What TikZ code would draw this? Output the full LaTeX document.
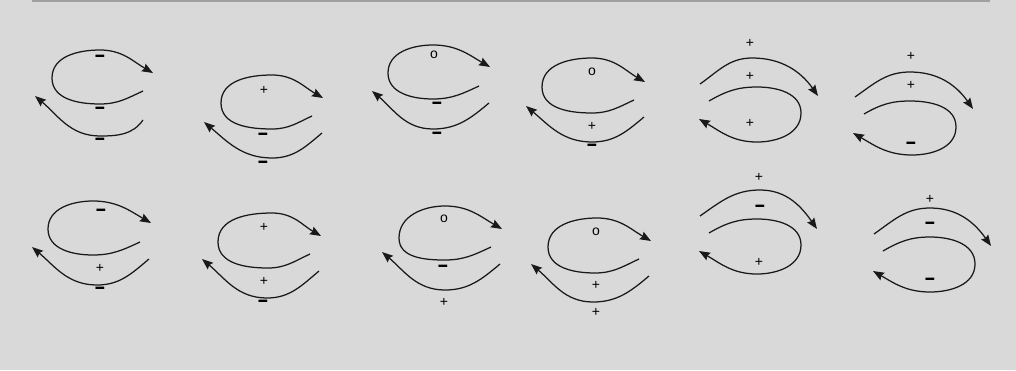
\documentclass[tikz,border=0pt]{standalone}
\usepackage{fontspec}
\setmainfont{Liberation Sans}
\usepackage{graphicx}
\usetikzlibrary{arrows.meta}
\definecolor{bgcol}{HTML}{D9D9D9}
\definecolor{rulegray}{HTML}{A0A0A0}
\newcommand\curlminus{\scalebox{1.45}[1.8]{\bfseries −}}
\begin{document}
\begin{tikzpicture}[x=1pt,y=1pt,
  curl/.style={line width=1.25pt, draw=black!90, -{Stealth[length=11pt,width=8.5pt,inset=1.5pt]}},
  lab/.style={inner sep=0pt, font=\fontsize{14}{14}\selectfont},
  mn/.style={inner sep=0pt, font=\fontsize{12}{12}\selectfont, yshift=1pt}]
\fill[bgcol] (0,0) rectangle (1016,-370);
\useasboundingbox (0,0) rectangle (1016,-370);
\draw[rulegray, line width=1.5pt] (32,-0.75) -- (990,-0.75);

% ---------- Row 1 ----------
% G1
\draw[curl] (143,-91) to[out=205,in=0] (100,-104) to[out=180,in=-90] (52,-78) to[out=90,in=180] (100,-50) to[out=0,in=150] (153,-73);
\draw[curl] (143,-120) to[out=235,in=0] (100,-136) to[out=180,in=-40] (35,-96);
\node[mn] (g1a) at (100,-60) {\curlminus};
\node[mn] (g1b) at (100,-112) {\curlminus};
\node[mn] (g1c) at (100,-143) {\curlminus};

% G2
\draw[curl] (312,-116) to[out=205,in=0] (272,-129) to[out=180,in=-90] (221,-103) to[out=90,in=180] (272,-75) to[out=0,in=150] (323,-98);
\draw[curl] (322,-133) to[out=220,in=0] (272,-158) to[out=180,in=-40] (204,-122);
\node[lab] (g2a) at (264,-90) {+};
\node[mn] (g2b) at (263,-138) {\curlminus};
\node[mn] (g2c) at (263,-166) {\curlminus};

% G3
\draw[curl] (479,-86) to[out=205,in=0] (433,-99) to[out=180,in=-90] (388,-73) to[out=90,in=180] (433,-45) to[out=0,in=150] (490,-67);
\draw[curl] (489,-103) to[out=220,in=0] (433,-129) to[out=180,in=-40] (372,-91);
\node[lab] (g3a) at (434,-55) {o};
\node[mn] (g3b) at (437,-107) {\curlminus};
\node[mn] (g3c) at (437,-137) {\curlminus};

% G4
\draw[curl] (634,-100) to[out=205,in=0] (592,-113) to[out=180,in=-90] (542,-87) to[out=90,in=180] (592,-58) to[out=0,in=150] (645,-82);
\draw[curl] (644,-117) to[out=220,in=0] (592,-142) to[out=180,in=-40] (526,-106);
\node[lab] (g4a) at (592,-72) {o};
\node[lab] (g4b) at (592,-126) {+};
\node[mn] (g4c) at (592,-149) {\curlminus};

% G5
\draw[curl] (700,-84) to[out=35,in=180] (752,-58) to[out=0,in=125] (818,-96);
\draw[curl] (709,-101) to[out=30,in=180] (757,-87) to[out=0,in=90] (801,-113) to[out=-90,in=0] (757,-142) to[out=180,in=-30] (699,-119);
\node[lab] (g5a) at (750,-43) {+};
\node[lab] (g5b) at (750,-76) {+};
\node[lab] (g5c) at (750,-123) {+};

% G6
\draw[curl] (855,-97) to[out=35,in=180] (910,-72) to[out=0,in=125] (973,-109);
\draw[curl] (864,-114) to[out=30,in=180] (910,-101) to[out=0,in=90] (956,-127) to[out=-90,in=0] (912,-155) to[out=180,in=-30] (853,-133);
\node[lab] (g6a) at (911,-56) {+};
\node[lab] (g6b) at (911,-85) {+};
\node[mn] (g6c) at (911,-147) {\curlminus};

% ---------- Row 2 ----------
% G7
\draw[curl] (140,-242) to[out=205,in=0] (93,-255) to[out=180,in=-90] (48,-229) to[out=90,in=180] (93,-201) to[out=0,in=150] (151,-223);
\draw[curl] (149,-259) to[out=220,in=0] (97,-285) to[out=180,in=-40] (32,-247);
\node[mn] (g7a) at (101,-214) {\curlminus};
\node[lab] (g7b) at (100,-268) {+};
\node[mn] (g7c) at (100,-292) {\curlminus};

% G8
\draw[curl] (310,-254) to[out=205,in=0] (268,-268) to[out=180,in=-90] (218,-242) to[out=90,in=180] (272,-213) to[out=0,in=150] (321,-236);
\draw[curl] (319,-271) to[out=220,in=0] (267,-298) to[out=180,in=-40] (202,-259);
\node[lab] (g8a) at (264,-227) {+};
\node[lab] (g8b) at (264,-281) {+};
\node[mn] (g8c) at (263,-305) {\curlminus};

% G9
\draw[curl] (491,-247) to[out=205,in=0] (445,-260) to[out=180,in=-90] (399,-238) to[out=90,in=180] (445,-206) to[out=0,in=150] (502,-229);
\draw[curl] (500,-264) to[out=220,in=0] (445,-290) to[out=180,in=-40] (382,-252);
\node[lab] (g9a) at (444,-219) {o};
\node[mn] (g9b) at (443,-270) {\curlminus};
\node[lab] (g9c) at (444,-302) {+};

% G10
\draw[curl] (639,-259) to[out=205,in=0] (595,-273) to[out=180,in=-90] (548,-247) to[out=90,in=180] (597,-218) to[out=0,in=150] (651,-241);
\draw[curl] (649,-276) to[out=220,in=0] (593,-302) to[out=180,in=-40] (531,-264);
\node[lab] (g10a) at (596,-232) {o};
\node[lab] (g10b) at (596,-285) {+};
\node[lab] (g10c) at (596,-312) {+};

% G11
\draw[curl] (700,-216) to[out=35,in=180] (760,-190) to[out=0,in=125] (817,-229);
\draw[curl] (709,-233) to[out=30,in=180] (757,-219) to[out=0,in=90] (801,-245) to[out=-90,in=0] (757,-274) to[out=180,in=-30] (699,-251);
\node[lab] (g11a) at (759,-177) {+};
\node[mn] (g11b) at (760,-210) {\curlminus};
\node[lab] (g11c) at (759,-262) {+};

% G12
\draw[curl] (874,-234) to[out=35,in=180] (930,-208) to[out=0,in=125] (991,-246);
\draw[curl] (883,-251) to[out=30,in=180] (930,-237) to[out=0,in=90] (975,-264) to[out=-90,in=0] (930,-292) to[out=180,in=-30] (873,-271);
\node[lab] (g12a) at (930,-199) {+};
\node[mn] (g12b) at (930,-227) {\curlminus};
\node[mn] (g12c) at (930,-283) {\curlminus};
\end{tikzpicture}
\end{document}
